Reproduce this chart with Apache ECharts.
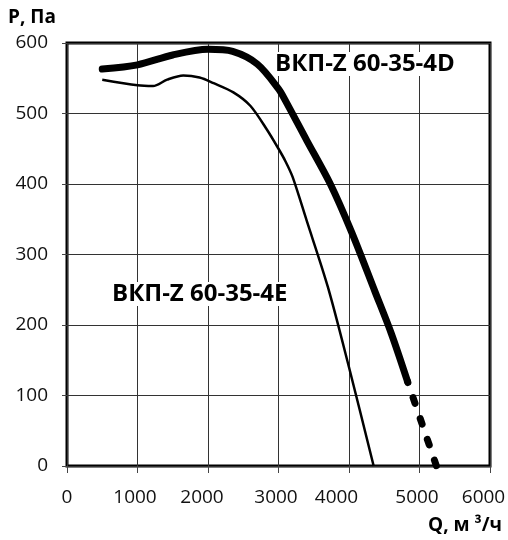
<!DOCTYPE html>
<html>
<head>
<meta charset="utf-8">
<script src="https://cdn.jsdelivr.net/npm/echarts@6/dist/echarts.min.js"></script>
<style>
  html, body { margin: 0; padding: 0; background: #fff; }
  #chart { width: 508px; height: 540px; }
</style>
</head>
<body>
<div id="chart"></div>
<script>
// ВКП-Z 60-35-4D, сплошной участок
const q4D = [500, 1000, 1500, 2000, 2350, 2700, 3000, 3100, 3400, 3730, 4040, 4370, 4600, 4830]
const p4D = [563, 569, 583, 591, 588, 570, 535, 518, 462, 401, 331, 247, 188, 120]
// продолжение пунктиром
const q4Ddash = [4830, 5240]
const p4Ddash = [120, 0]
// ВКП-Z 60-35-4E
const q4E = [500, 1000, 1220, 1420, 1650, 1880, 2080, 2360, 2600, 2830, 3000, 3100, 3200, 3400, 3700, 4000, 4350]
const p4E = [548, 540, 539, 548, 554, 551, 543, 530, 511, 478, 450, 432, 410, 348, 254, 140, 0]

const FONT = '"Open Sans", sans-serif'
const pairs = (xs, ys) => xs.map((x, i) => [x, ys[i]])

// подписи оси Q в оригинале чуть смещены влево
const shiftStyle = { 2000: 'b', 4000: 'd', 6000: 'c' }
const lbl = pad => ({ fontFamily: FONT, fontSize: 19, color: '#111', padding: [0, pad, 0, 0] })

const chart = echarts.init(document.getElementById('chart'))

chart.setOption({
  animation: false,
  backgroundColor: '#fff',
  grid: {
    left: 67, right: 18, top: 43, bottom: 74,
    outerBoundsMode: 'none', containLabel: false,
    show: true, borderColor: '#000', borderWidth: 3,
  },
  xAxis: {
    type: 'value', min: 0, max: 6000, interval: 1000,
    axisLine: { show: false },
    axisTick: { show: true, length: 7, lineStyle: { color: '#444' } },
    axisLabel: {
      margin: 22,
      formatter: v => v === 0 ? '{z|0}' : `{${shiftStyle[v] || 'a'}|${v}}`,
      rich: { z: lbl(0), a: lbl(5), b: lbl(12), c: lbl(13), d: lbl(25) },
    },
    splitLine: { show: true, lineStyle: { color: '#333', width: 1 } },
  },
  yAxis: {
    type: 'value', min: 0, max: 600, interval: 100,
    axisLine: { show: false },
    axisTick: { show: true, length: 5, lineStyle: { color: '#444' } },
    axisLabel: { color: '#111', fontFamily: FONT, fontSize: 19, margin: 19 },
    splitLine: { show: true, lineStyle: { color: '#333', width: 1 } },
  },
  graphic: [
    { type: 'text', x: 8, y: 18, style: { text: 'P, Па', font: 'bold 19px ' + FONT, fill: '#000', verticalAlign: 'middle' } },
    { type: 'text', x: 502, y: 526, style: { text: 'Q, м ³/ч', font: 'bold 19px ' + FONT, fill: '#000', align: 'right', verticalAlign: 'middle' } },
    { type: 'text', x: 273, y: 64, z: 10, style: { text: 'ВКП-Z 60-35-4D', font: 'bold 24px ' + FONT, fill: '#000', verticalAlign: 'middle', backgroundColor: '#fff', padding: [0, 2] } },
    { type: 'text', x: 110, y: 294, z: 10, style: { text: 'ВКП-Z 60-35-4E', font: 'bold 24px ' + FONT, fill: '#000', verticalAlign: 'middle', backgroundColor: '#fff', padding: [0, 2] } },
  ],
  series: [
    {
      type: 'line', data: pairs(q4E, p4E), smooth: 0.3, symbol: 'none',
      lineStyle: { color: '#000', width: 2.5 },
    },
    {
      type: 'line', data: pairs(q4D, p4D), smooth: 0.3, symbol: 'none',
      lineStyle: { color: '#000', width: 7, cap: 'round', join: 'round' },
    },
    {
      type: 'line', data: pairs(q4Ddash, p4Ddash), symbol: 'none',
      lineStyle: { color: '#000', width: 7, cap: 'round', type: [6, 16], dashOffset: 4.8 },
    },
  ],
})
</script>
</body>
</html>
